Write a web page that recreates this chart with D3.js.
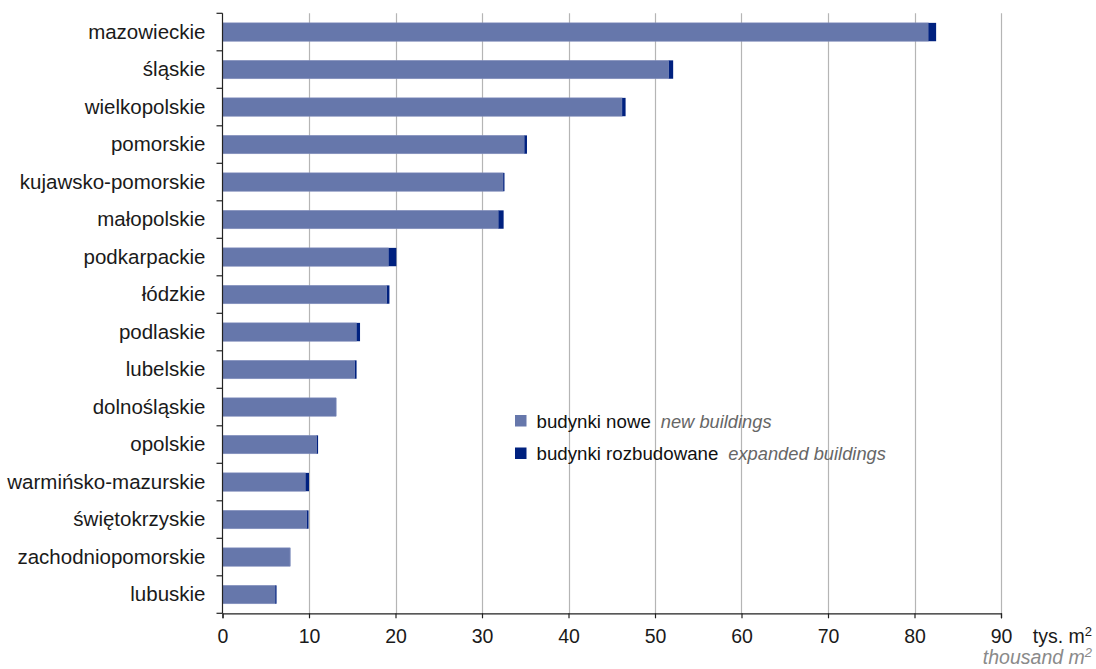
<!DOCTYPE html>
<html>
<head>
<meta charset="utf-8">
<script src="https://cdn.jsdelivr.net/npm/d3@7/dist/d3.min.js"></script>
<style>
  body { margin: 0; background: #fff; }
  svg { display: block; font-family: "Liberation Sans", Arial, sans-serif; }
</style>
</head>
<body>
<svg id="chart" width="1096" height="669"></svg>
<script>
const categories = ["mazowieckie","śląskie","wielkopolskie","pomorskie","kujawsko-pomorskie","małopolskie","podkarpackie","łódzkie","podlaskie","lubelskie","dolnośląskie","opolskie","warmińsko-mazurskie","świętokrzyskie","zachodniopomorskie","lubuskie"];
const newBuildings =      [81.6, 51.6, 46.2, 34.9, 32.45, 31.9, 19.2, 19.0, 15.5, 15.3, 13.1, 10.9, 9.6, 9.75, 7.8, 6.1];
const expandedBuildings = [0.9,  0.5,  0.4,  0.3,  0.15,  0.6,  0.9,  0.3,  0.4,  0.2,  0.05, 0.15, 0.4, 0.2,  0.03, 0.15];
const xTicks = [0,10,20,30,40,50,60,70,80,90];
const seriesNamesPl = ["budynki nowe","budynki rozbudowane"];
const seriesNamesEn = ["new buildings","expanded buildings"];
const colors = ["#6677ab","#00217f"];

(function(){
const svg = d3.select("#chart");
const pLeft = 222.5, pRight = 1001, pTop = 13.3, pBottom = 613.3;

const x = d3.scaleLinear().domain([0,90]).range([pLeft,pRight]);
const y = d3.scaleBand().domain(categories).range([pTop,pBottom]).paddingInner(0.51).paddingOuter(0.255);

// gridlines
svg.append("g").selectAll("line").data(xTicks.filter(d=>d>0)).join("line")
  .attr("x1", d=>Math.round(x(d))+0.5).attr("x2", d=>Math.round(x(d))+0.5)
  .attr("y1", pTop).attr("y2", pBottom)
  .attr("stroke", "#b5b5b5").attr("stroke-width", 1.2);

// bars
const rows = categories.map((c,i)=>({c, a:newBuildings[i], b:expandedBuildings[i]}));
const g = svg.append("g");
g.selectAll("rect.n").data(rows).join("rect").attr("class","n")
  .attr("x", x(0)).attr("y", d=>y(d.c)).attr("height", y.bandwidth())
  .attr("width", d=>x(d.a)-x(0)).attr("fill", colors[0])
  .attr("stroke","#8490bd").attr("stroke-width",0.6);
g.selectAll("rect.e").data(rows).join("rect").attr("class","e")
  .attr("x", d=>x(d.a)).attr("y", d=>y(d.c)).attr("height", y.bandwidth())
  .attr("width", d=>x(d.a+d.b)-x(d.a)).attr("fill", colors[1]);

// y axis
const yAx = svg.append("g").attr("transform", `translate(${pLeft},0)`)
  .call(d3.axisLeft(y).tickSize(0).tickPadding(17));
yAx.select(".domain").remove();
yAx.selectAll("text").attr("font-size", 20.5).attr("fill", "#1a1a1a").attr("font-family","Liberation Sans, Arial, sans-serif");
const half = y.step()*y.paddingInner()/2;
const bounds = categories.map(c=>y(c)-half).concat([pBottom]);
svg.append("g").selectAll("line").data(bounds).join("line")
  .attr("x1", pLeft-6).attr("x2", pLeft).attr("y1", d=>d).attr("y2", d=>d)
  .attr("stroke","#222").attr("stroke-width",1.2);
svg.append("line").attr("x1",pLeft).attr("x2",pLeft).attr("y1",pTop).attr("y2",pBottom)
  .attr("stroke","#222").attr("stroke-width",1.2);

// x axis
const xAx = svg.append("g").attr("transform", `translate(0,${pBottom})`)
  .call(d3.axisBottom(x).tickValues(xTicks).tickSize(5).tickSizeOuter(5).tickPadding(11));
xAx.select(".domain").attr("stroke","#222").attr("stroke-width",1.2);
xAx.selectAll(".tick line").attr("stroke","#222").attr("stroke-width",1.2);
xAx.selectAll("text").attr("font-size", 19.5).attr("fill", "#1a1a1a").attr("font-family","Liberation Sans, Arial, sans-serif");

// unit labels
const u1 = svg.append("text").attr("x", 1092).attr("y", 643).attr("text-anchor","end")
  .attr("font-size", 19.5).attr("fill","#1a1a1a");
u1.append("tspan").text("tys. m");
u1.append("tspan").text("2").attr("font-size", 13).attr("dy", -7);
const u2 = svg.append("text").attr("x", 1092).attr("y", 664).attr("text-anchor","end")
  .attr("font-size", 19.5).attr("fill","#8a8a8a").attr("font-style","italic");
u2.append("tspan").text("thousand m");
u2.append("tspan").text("2").attr("font-size", 13).attr("dy", -7);

// legend
const lg = svg.append("g");
const legendY = [421, 453.5];
seriesNamesPl.forEach((name,i)=>{
  lg.append("rect").attr("x",515).attr("y",legendY[i]-6).attr("width",11.5).attr("height",11.5).attr("fill",colors[i]);
  const t = lg.append("text").attr("x",536.5).attr("y",legendY[i]+6.5).attr("font-size",18.7);
  t.append("tspan").text(name).attr("fill","#111");
  t.append("tspan").text(seriesNamesEn[i]).attr("dx",10).attr("font-size",18.3).attr("fill","#666").attr("font-style","italic");
});
})();
</script>
</body>
</html>
